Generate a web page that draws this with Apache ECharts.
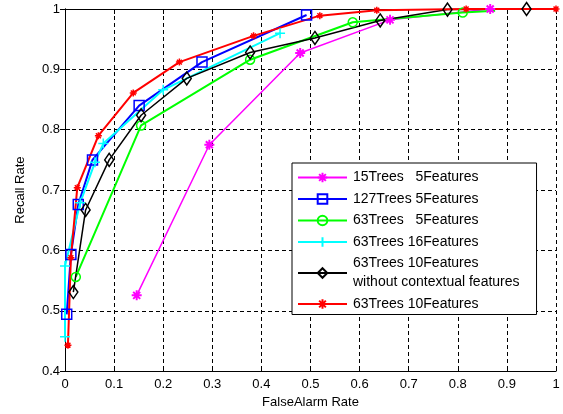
<!DOCTYPE html>
<html lang="en">
<head>
    <meta charset="utf-8">
    <title>Recall vs FalseAlarm</title>
    <script src="https://cdn.jsdelivr.net/npm/echarts@6/dist/echarts.min.js"></script>
    <style type="text/css">
    html, body { margin: 0; padding: 0; background: #fff; }
    #chart { width: 563px; height: 414px; }
    </style>
</head>
<body>
    <div id="chart"></div>
    <script type="text/javascript">
    // series names (legend order)
    var names = [
        '15Trees   5Features',
        '127Trees 5Features',
        '63Trees   5Features',
        '63Trees 16Features',
        '63Trees 10Features\nwithout contextual features',
        '63Trees 10Features'
    ];

    // [false alarm rate, recall rate]
    var trees15_f5 = [[0.146, 0.5255], [0.294, 0.775], [0.479, 0.927], [0.662, 0.982], [0.866, 1.0]];
    var trees127_f5 = [[0.0035, 0.494], [0.012, 0.593], [0.027, 0.676], [0.056, 0.75], [0.151, 0.84], [0.279, 0.912], [0.492, 0.99]];
    var trees63_f5 = [[0.022, 0.556], [0.155, 0.807], [0.377, 0.916], [0.586, 0.978], [0.81, 0.994], [0.876, 0.997]];
    var trees63_f16 = [[0.0, 0.457], [0.0, 0.574], [0.031, 0.679], [0.061, 0.746], [0.078, 0.777], [0.2, 0.866], [0.438, 0.96]];
    var trees63_f10_noctx = [[0.017, 0.531], [0.042, 0.667], [0.09, 0.75], [0.155, 0.824], [0.248, 0.885], [0.377, 0.928], [0.509, 0.952], [0.642, 0.981], [0.779, 0.999], [0.94, 1.0]];
    var trees63_f10 = [[0.006, 0.443], [0.012, 0.588], [0.025, 0.704], [0.068, 0.79], [0.139, 0.861], [0.233, 0.912], [0.384, 0.9555], [0.519, 0.989], [0.635, 0.998], [0.817, 1.0], [1.0, 1.0]];

    var asterisk = 'path://M5,0L5,10M0,5L10,5M1.5,1.5L8.5,8.5M8.5,1.5L1.5,8.5';
    var plus = 'path://M5,0L5,10M0,5L10,5';

    var font = '"Liberation Sans", Arial, sans-serif';

    function makeSeries(name, data, color, symbol, size, lw, bw) {
        return {
            name: name,
            type: 'line',
            data: data,
            clip: false,
            symbol: symbol,
            symbolSize: size,
            showSymbol: true,
            animation: false,
            lineStyle: { color: color, width: lw },
            itemStyle: { color: 'rgba(0,0,0,0)', borderColor: color, borderWidth: bw }
        };
    }

    // green curve: last vertex has no visible marker in the original
    var greenData = trees63_f5.map(function (p, i) {
        return i === trees63_f5.length - 1 ? { value: p, symbol: 'none' } : p;
    });

    var chart = echarts.init(document.getElementById('chart'), null, { renderer: 'canvas' });

    var axisCommon = {
        type: 'value',
        interval: 0.1,
        axisLine: { show: true, lineStyle: { color: '#000', width: 1 } },
        axisTick: { show: true, inside: true, length: 5, lineStyle: { color: '#000' } },
        axisLabel: { color: '#000', fontFamily: font, fontSize: 13 },
        nameTextStyle: { color: '#000', fontFamily: font, fontSize: 13 }
    };

    chart.setOption({
        backgroundColor: '#fff',
        animation: false,
        grid: { left: 65, right: 7, top: 9, bottom: 42, show: false },
        xAxis: [
            Object.assign({}, axisCommon, {
                min: 0, max: 1,
                name: 'FalseAlarm Rate',
                nameLocation: 'middle',
                nameGap: 24,
                axisLabel: { color: '#000', fontFamily: font, fontSize: 13, margin: 7 },
                splitLine: { show: true, lineStyle: { color: '#000', type: [4, 3], width: 1 } }
            }),
            Object.assign({}, axisCommon, {
                min: 0, max: 1, position: 'top',
                axisLabel: { show: false },
                splitLine: { show: false }
            })
        ],
        yAxis: [
            Object.assign({}, axisCommon, {
                min: 0.4, max: 1,
                name: 'Recall Rate',
                nameLocation: 'middle',
                nameGap: 38,
                axisLabel: { color: '#000', fontFamily: font, fontSize: 13, margin: 5 },
                splitLine: { show: true, lineStyle: { color: '#000', type: [4, 3], width: 1 } }
            }),
            Object.assign({}, axisCommon, {
                min: 0.4, max: 1, position: 'right',
                axisLabel: { show: false },
                splitLine: { show: false }
            })
        ],
        legend: {
            orient: 'vertical',
            left: 292,
            top: 163,
            padding: [5, 17, 1, 5],
            itemGap: 2.5,
            itemWidth: 49,
            itemHeight: 12,
            backgroundColor: '#fff',
            borderColor: '#000',
            borderWidth: 1,
            borderRadius: 0,
            textStyle: { color: '#000', fontFamily: font, fontSize: 14, lineHeight: 19, padding: [0, 0, 0, 1] },
            data: names
        },
        series: [
            makeSeries(names[0], trees15_f5, '#ff00ff', asterisk, 10, 1.5, 2),
            makeSeries(names[1], trees127_f5, '#0000ff', 'rect', 10, 2, 1.5),
            makeSeries(names[2], greenData, '#00ff00', 'circle', 9, 2, 1.5),
            makeSeries(names[3], trees63_f16, '#00ffff', plus, 10, 2, 1.5),
            makeSeries(names[4], trees63_f10_noctx, '#000000', 'diamond', [9, 13], 1.5, 1.5),
            makeSeries(names[5], trees63_f10, '#ff0000', asterisk, 7, 2, 1.5)
        ]
    });
    </script>
</body>
</html>
